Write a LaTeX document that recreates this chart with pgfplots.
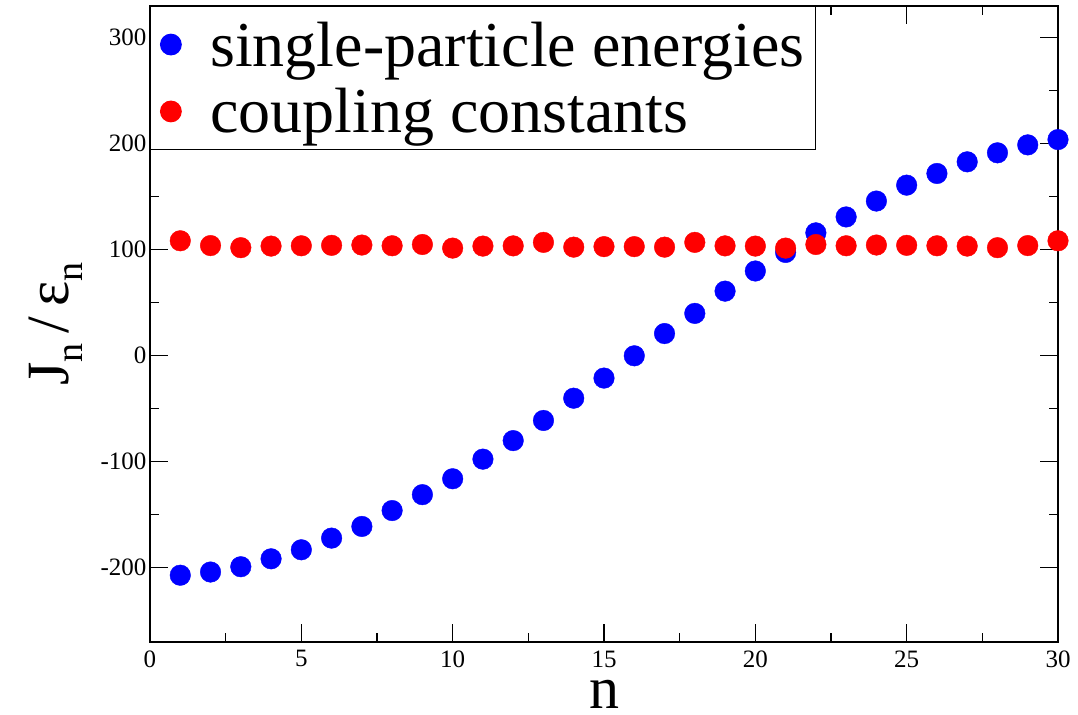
\documentclass[border=0pt]{standalone}
\usepackage{fontspec}
\setmainfont{Liberation Serif}
\usepackage{pgfplots}
\pgfplotsset{compat=1.18}

\pgfplotstableread{
n   e
1  -207
2  -204
3  -199
4  -191.5
5  -183
6  -172
7  -161
8  -146
9  -131
10 -116
11 -97.5
12 -80
13 -61
14 -40
15 -21
16  0
17  21
18  40
19  61
20  80
21  97.5
22  116
23  131
24  146
25  161
26  172
27  183
28  191.5
29  199
30  204
}\energies

\pgfplotstableread{
n   J
1  108.5
2  104
3  102
4  103.5
5  103.8
6  104.2
7  104.5
8  103.8
9  105
10 101.6
11 103.5
12 103.7
13 107
14 102.5
15 103
16 103
17 102.5
18 107
19 103.7
20 103.5
21 101.6
22 105
23 103.8
24 104.5
25 104.2
26 103.8
27 103.5
28 102
29 104
30 108.5
}\couplings

\pgfplotsset{
    dots/.style={only marks, mark=*, color=#1, mark size=10.3bp, mark options={draw=none}},
}

\begin{document}
\begin{tikzpicture}
\begin{axis}[
    scale only axis, width=908bp, height=636bp,
    xmin=0, xmax=30, ymin=-270, ymax=330,
    xtick={0,5,...,30}, ytick={-200,-100,...,300},
    minor x tick num=1, minor y tick num=1,
    major tick length=18bp, minor tick length=9bp,
    tick style={black, line width=1.2bp},
    axis line style={line width=1.5bp},
    axis on top, clip=false,
    /pgf/number format/assume math mode=true,
    ticklabel style={font=\fontsize{25bp}{30bp}\selectfont},
    x tick label style={yshift=-5bp},
    xlabel={n}, ylabel={J\raisebox{-14bp}{\fontsize{38bp}{40bp}\selectfont n}\,/\,ε\raisebox{-14bp}{\fontsize{38bp}{40bp}\selectfont n}},
    label style={font=\fontsize{60bp}{64bp}\selectfont, inner sep=0pt},
    xlabel style={at={(axis description cs:0.5,-0.1038)}, anchor=base},
    ylabel style={at={(axis description cs:-0.0903,0.5)}, anchor=base, rotate=0},
    legend cell align=left,
    legend style={at={(0,1)}, anchor=north west, draw=black, line width=1.2bp,
        inner xsep=10bp, inner ysep=14bp, row sep=19bp, column sep=28bp,
        font=\fontsize{64bp}{66bp}\selectfont, nodes={inner sep=1bp}},
]
\addplot[dots=blue] table[x=n, y=e] {\energies};
\addlegendentry{single-particle energies}
\addplot[dots=red] table[x=n, y=J] {\couplings};
\addlegendentry{coupling constants}
\end{axis}
\pgfresetboundingbox
\path[use as bounding box] (current axis.south west) ++(-150bp,-73bp) rectangle ++(1078bp,715bp);
\end{tikzpicture}
\end{document}
